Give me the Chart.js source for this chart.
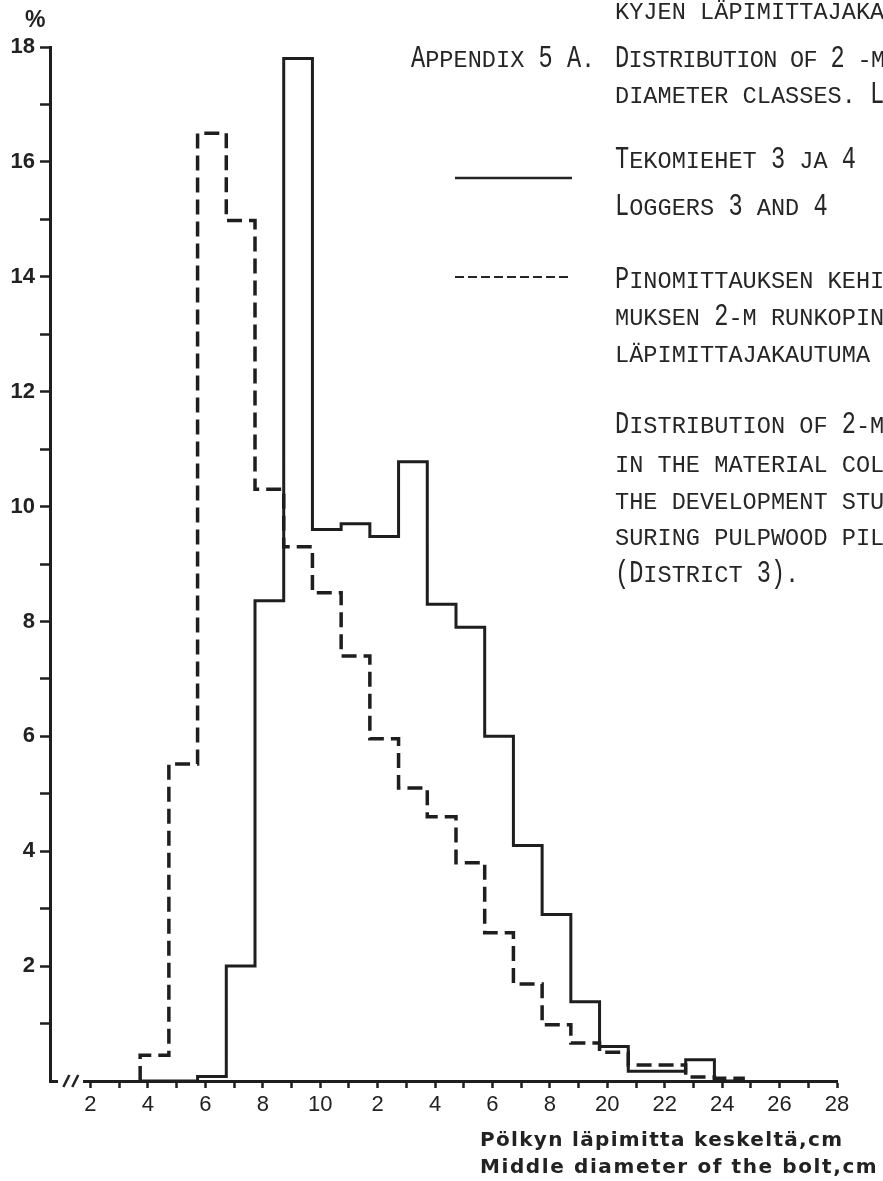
<!DOCTYPE html>
<html>
<head>
<meta charset="utf-8">
<title>Appendix 5 A</title>
<script src="https://cdn.jsdelivr.net/npm/chart.js@4.4.0/dist/chart.umd.min.js"></script>
<style>
  html, body { margin: 0; padding: 0; background: #fff; }
  body { width: 883px; height: 1181px; position: relative; overflow: hidden; }
  #grafica { position: absolute; left: 0; top: 0; }
  /* typewriter style text, small caps done by hand */
  .sc { position: absolute; font-family: 'Liberation Mono', monospace; font-size: 23.6px; line-height: 1;
        color: #262626; text-transform: uppercase; white-space: pre; }
  .sc .b { display: inline-block; transform: scaleY(1.33); transform-origin: 50% 77%; }
  .tx { position: absolute; font-family: 'DejaVu Sans', sans-serif; font-weight: bold; font-size: 20px;
        line-height: 1; color: #222; white-space: nowrap; }
  #pct { left: 25px; top: 8px; font-family: 'Liberation Sans', Arial, sans-serif; font-size: 23px; }
  #leyenda { position: absolute; left: 0; top: 0; }
</style>
</head>
<body>
<canvas id="grafica" width="883" height="1181"></canvas>

<div class="tx" id="pct">%</div>

<div class="sc" style="left:615px; top:1px">kyjen läpimittajaka</div>
<div class="sc" style="left:411px; top:49px">Appendix 5 A.</div>
<div class="sc" style="left:615px; top:49px; letter-spacing:-0.7px">Distribution of 2 -m</div>
<div class="sc" style="left:615px; top:85px">diameter classes. L</div>
<div class="sc" style="left:615px; top:150px">Tekomiehet 3 ja 4</div>
<div class="sc" style="left:615px; top:197px">Loggers 3 and 4</div>
<div class="sc" style="left:615px; top:270px">Pinomittauksen kehi</div>
<div class="sc" style="left:615px; top:307px">muksen 2-m runkopin</div>
<div class="sc" style="left:615px; top:344px">läpimittajakautuma</div>
<div class="sc" style="left:615px; top:415px">Distribution of 2-m</div>
<div class="sc" style="left:615px; top:454px">in the material col</div>
<div class="sc" style="left:615px; top:491px">the development stu</div>
<div class="sc" style="left:615px; top:527px">suring pulpwood pil</div>
<div class="sc" style="left:615px; top:564px">(District 3).</div>

<svg id="leyenda" width="883" height="400">
  <line x1="455" y1="178" x2="572" y2="178" stroke="#262626" stroke-width="2.5"/>
  <line x1="455" y1="277" x2="568" y2="277" stroke="#262626" stroke-width="2" stroke-dasharray="9 4"/>
</svg>

<div class="tx" data-ancho="363" style="left:480px; top:1129px">Pölkyn läpimitta keskeltä,cm</div>
<div class="tx" data-ancho="398" style="left:480px; top:1156px">Middle diameter of the bolt,cm</div>

<script>
// Diameter classes, cm (one step of the histogram each)
const clases = [4, 5, 6, 7, 8, 9, 10, 11, 12, 13, 14, 15, 16, 17, 18, 19, 20, 21, 22, 23, 24];
// class borders on the drawn axis (last one closes the last class)
const bordes = [3.73, 4.73, 5.73, 6.73, 7.73, 8.73, 9.73, 10.73, 11.73, 12.73, 13.73,
                14.73, 15.73, 16.73, 17.73, 18.73, 19.73, 20.73, 21.73, 22.73, 23.73, 24.73];

// Tekomiehet 3 ja 4 / Loggers 3 and 4, %
const tekomiehet = [0, 0, 0.08, 2.0, 8.36, 17.8, 9.6, 9.7, 9.48, 10.78, 8.3,
                    7.9, 6.0, 4.1, 2.9, 1.38, 0.6, 0.17, 0.17, 0.37, 0];
// Pinomittauksen kehittämistutkimus (dashed), %
const pinomittaus = [0.45, 5.52, 16.5, 14.98, 10.3, 9.3, 8.5, 7.4, 5.96, 5.1, 4.6,
                     3.8, 2.58, 1.69, 0.98, 0.66, 0.5, 0.28, 0.28, 0.07, 0.05];

// axis ticks
const marcasX = [2, 3, 4, 5, 6, 7, 8, 9, 10, 11, 12, 13, 14, 15, 16, 17, 18, 19, 20, 21, 22, 23, 24, 25, 26, 27, 28];
const valoresEtiquetaX = [2, 4, 6, 8, 10, 12, 14, 16, 18, 20, 22, 24, 26, 28];
const etiquetasX = ['2', '4', '6', '8', '10', '2', '4', '6', '8', '20', '22', '24', '26', '28'];
const marcasY = [1, 2, 3, 4, 5, 6, 7, 8, 9, 10, 11, 12, 13, 14, 15, 16, 17, 18];
const etiquetasY = ['', '2', '', '4', '', '6', '', '8', '', '10', '', '12', '', '14', '', '16', '', '18'];

// small caps: capitals and digits get the tall glyph
document.querySelectorAll('.sc').forEach((el) => {
  const txt = el.textContent;
  el.textContent = '';
  for (const ch of txt) {
    if (/[A-ZÄÖ0-9()]/.test(ch)) {
      const s = document.createElement('span');
      s.className = 'b';
      s.textContent = ch;
      el.appendChild(s);
    } else {
      el.appendChild(document.createTextNode(ch));
    }
  }
});

// spread the axis title lines to their width
document.querySelectorAll('.tx[data-ancho]').forEach((el) => {
  const n = el.textContent.length;
  const extra = (Number(el.dataset.ancho) - el.offsetWidth) / n;
  el.style.letterSpacing = extra + 'px';
});

// step outline of a histogram
function escalones(valores) {
  const pts = [{ x: bordes[0], y: 0 }];
  valores.forEach((v, i) => pts.push({ x: bordes[i], y: v }));
  pts.push({ x: bordes[valores.length], y: 0 });
  return pts;
}

// the "//" break at the start of the x axis
const corteEje = {
  id: 'corteEje',
  afterDraw(chart) {
    const ctx = chart.ctx;
    const x = chart.scales.x;
    const y0 = chart.chartArea.bottom;
    const a = x.getPixelForValue(0.87), b = x.getPixelForValue(1.74);
    ctx.save();
    ctx.fillStyle = '#fff';
    ctx.fillRect(a, y0 - 3, b - a, 6);
    ctx.strokeStyle = '#222';
    ctx.lineWidth = 2.5;
    [1.16, 1.47].forEach((v) => {
      const px = x.getPixelForValue(v);
      ctx.beginPath();
      ctx.moveTo(px - 3, y0 + 6);
      ctx.lineTo(px + 3, y0 - 6);
      ctx.stroke();
    });
    ctx.restore();
  }
};

const tinta = '#1e1e1e';

new Chart(document.getElementById('grafica'), {
  type: 'line',
  data: {
    datasets: [
      {
        label: 'Tekomiehet 3 ja 4 / Loggers 3 and 4',
        data: escalones(tekomiehet),
        stepped: true,
        borderColor: tinta,
        borderWidth: 3,
        borderJoinStyle: 'miter',
        pointRadius: 0,
        fill: false,
      },
      {
        label: 'Pinomittauksen kehittämistutkimuksen 2-m runkopinojen läpimittajakautuma',
        data: escalones(pinomittaus),
        stepped: true,
        borderColor: tinta,
        borderWidth: 3.5,
        borderDash: [15, 7],
        borderJoinStyle: 'miter',
        pointRadius: 0,
        fill: false,
      },
    ],
  },
  options: {
    responsive: false,
    animation: false,
    devicePixelRatio: 1,
    layout: { padding: { top: 47, right: 46, bottom: 0, left: 0 } },
    plugins: { legend: { display: false }, tooltip: { enabled: false } },
    scales: {
      x: {
        type: 'linear',
        min: 0.59,
        max: 28,
        afterBuildTicks: (s) => { s.ticks = marcasX.map((v) => ({ value: v })); },
        afterFit: (s) => { s.height = 100; },
        grid: { drawOnChartArea: false, tickLength: 7, tickWidth: 2.5, color: tinta },
        border: { display: true, width: 3, color: tinta },
        ticks: {
          autoSkip: false,
          maxRotation: 0,
          padding: 4,
          color: '#222',
          font: { family: 'Liberation Sans', size: 22 },
          callback: (v) => {
            const i = valoresEtiquetaX.indexOf(v);
            return i >= 0 ? etiquetasX[i] : '';
          },
        },
      },
      y: {
        min: 0,
        max: 18,
        afterBuildTicks: (s) => { s.ticks = marcasY.map((v) => ({ value: v })); },
        afterFit: (s) => { s.width = 50; },
        grid: { drawOnChartArea: false, tickLength: 10, tickWidth: 2.5, color: tinta },
        border: { display: true, width: 3, color: tinta },
        ticks: {
          padding: 5,
          color: '#222',
          font: { family: 'Liberation Sans', size: 22, weight: 'bold' },
          callback: (v) => etiquetasY[marcasY.indexOf(v)] || '',
        },
      },
    },
  },
  plugins: [corteEje],
});
</script>
</body>
</html>
